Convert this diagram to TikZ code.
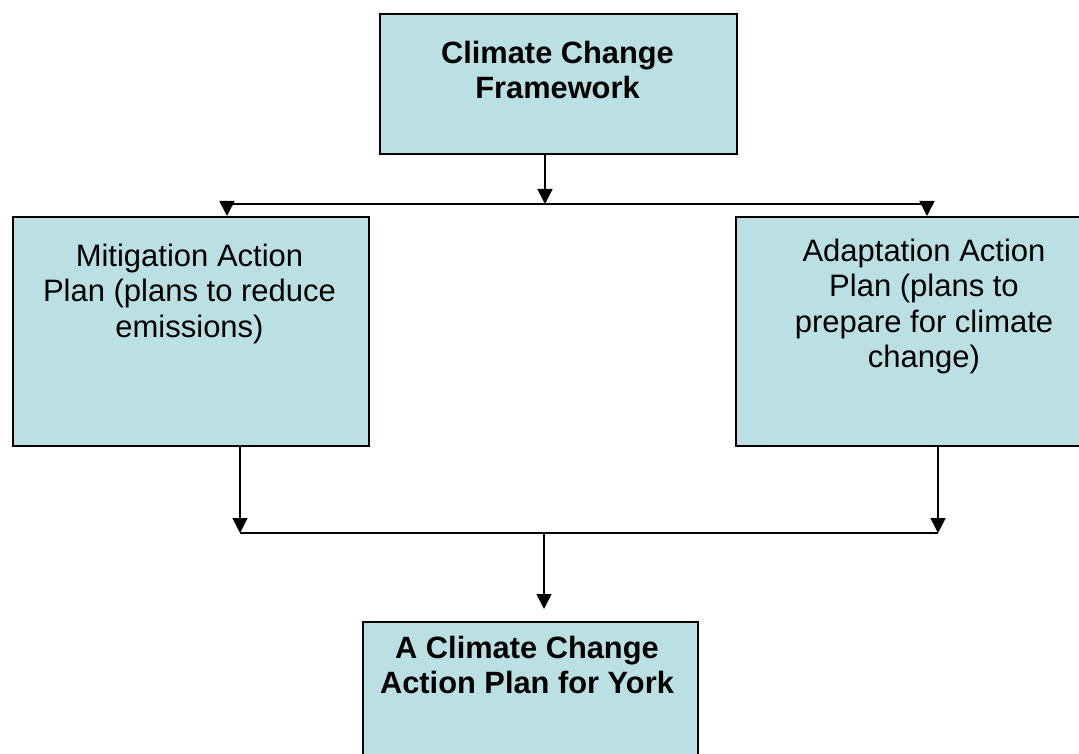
\documentclass[tikz,border=0pt]{standalone}
\usepackage{fontspec}
\setmainfont{Liberation Sans}
\usetikzlibrary{arrows.meta,calc}
\definecolor{boxfill}{RGB}{187,224,227}
\tikzset{
  box/.style={draw=black, fill=boxfill, line width=2.2pt, anchor=north west, inner sep=0pt},
  boxtext/.style={anchor=north, inner sep=0pt, align=center, font=\fontsize{31}{35.5}\selectfont},
  boldtext/.style={boxtext, font=\fontsize{30.8}{35}\selectfont\bfseries},
  conn/.style={line width=1.6pt, draw=black},
  arr/.style={conn, -{Triangle[length=15pt,width=15pt]}}
}
\begin{document}
\begin{tikzpicture}[x=1pt,y=-1pt]
\useasboundingbox (0,0) rectangle (1079,754);
\clip (0,0) rectangle (1079,754);
% boxes
\node[box, minimum width=357pt, minimum height=140pt] (top) at (379,13) {};
\node[box, minimum width=356pt, minimum height=229pt] (left) at (12,216) {};
\node[box, minimum width=360pt, minimum height=229pt] (right) at (735,216) {};
\node[box, minimum width=335pt, minimum height=160pt] (bot) at (362,621) {};
% texts
\node[boldtext] (topT) at (557.5,41) {Climate Change\\Framework};
\node[boxtext] (leftT) at (189.5,243.5) {Mitigation Action\\Plan (plans to reduce\\emissions)};
\node[boxtext] (rightT) at (924,238.5) {Adaptation Action\\Plan (plans to\\prepare for climate\\change)};
\node[boldtext] (botT) at (527,636) {A Climate Change\\Action Plan for York};
% junctions
\coordinate (j1) at (545,204);
\coordinate (jl) at (227,204);
\coordinate (jr) at (927,204);
\coordinate (kl) at (240,533);
\coordinate (kr) at (938,533);
\coordinate (k) at (544,533);
% connectors
\draw[arr] (top.south -| j1) -- (j1);
\draw[conn] (jl) -- (jr);
\draw[arr] (jl) -- (jl |- left.north);
\draw[arr] (jr) -- (jr |- right.north);
\draw[arr] (left.south -| kl) -- (kl);
\draw[arr] (right.south -| kr) -- (kr);
\draw[conn] (kl) -- (kr);
\draw[arr, shorten >=12pt] (k) -- (k |- bot.north);
\end{tikzpicture}
\end{document}
